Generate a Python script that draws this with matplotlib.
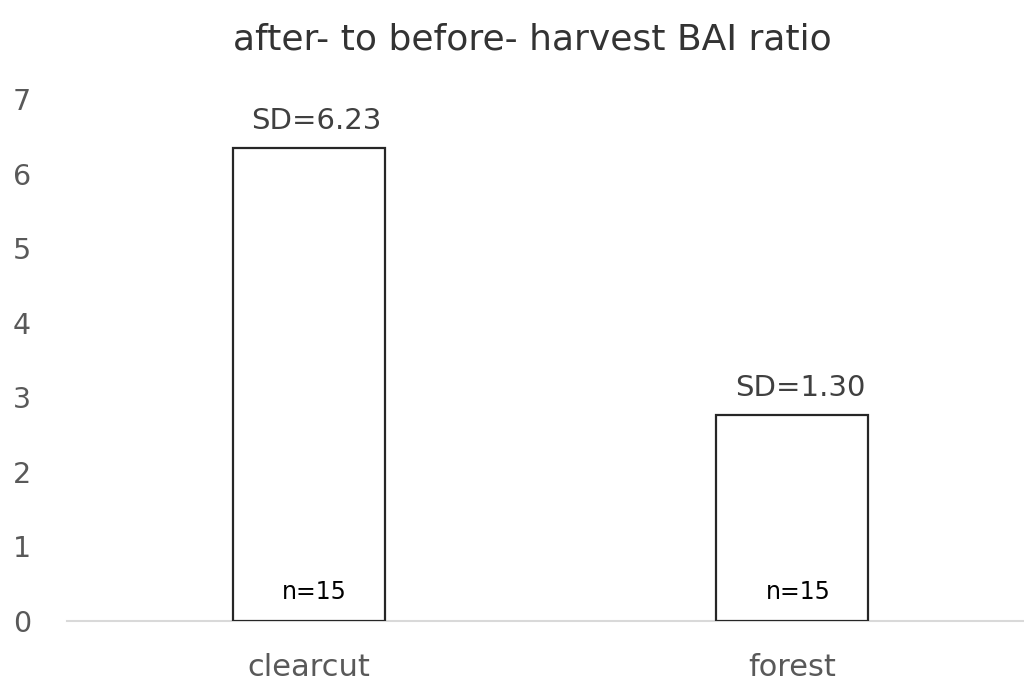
import matplotlib
matplotlib.use("Agg")
import matplotlib.pyplot as plt

categories = ["clearcut", "forest"]
ratios = [6.34, 2.76]
sd_labels = ["SD=6.23", "SD=1.30"]
n_labels = ["n=15", "n=15"]
yticks = [0, 1, 2, 3, 4, 5, 6, 7]
title = "after- to before- harvest BAI ratio"

plt.rcParams['font.family'] = ['DejaVu Sans']
grey = "#595959"

fig = plt.figure(figsize=(10.24, 6.83), dpi=100)
ax = fig.add_axes([67/1024, 62/683, 966.5/1024, 522/683])
x = list(range(len(categories)))
ax.bar(x, ratios, width=0.315, color="white", edgecolor="#262626", linewidth=1.6, zorder=3)
ax.set_xlim(-0.5, 1.5)
ax.set_ylim(0, 7)
ax.set_yticks(yticks)
ax.set_xticks(x)
ax.set_xticklabels(categories)
for s in ["top", "right", "left"]:
    ax.spines[s].set_visible(False)
ax.spines["bottom"].set_color("#d9d9d9")
ax.spines["bottom"].set_linewidth(1.5)
ax.tick_params(axis="y", length=0, labelsize=20.5, colors=grey, pad=26)
ax.tick_params(axis="x", length=0, labelsize=22, colors=grey, pad=23)
for xi, v, sd, n in zip(x, ratios, sd_labels, n_labels):
    ax.annotate(sd, (xi, v), xytext=(8, 19), textcoords="offset pixels",
                ha="center", va="baseline", fontsize=21, color="#404040")
    ax.annotate(n, (xi, 0), xytext=(6, 22), textcoords="offset pixels",
                ha="center", va="baseline", fontsize=17, color="black")
fig.text(532/1024, 1 - 40/683, title, ha="center", va="center", fontsize=26, color="#333333")
fig.savefig("out.png", dpi=100)
